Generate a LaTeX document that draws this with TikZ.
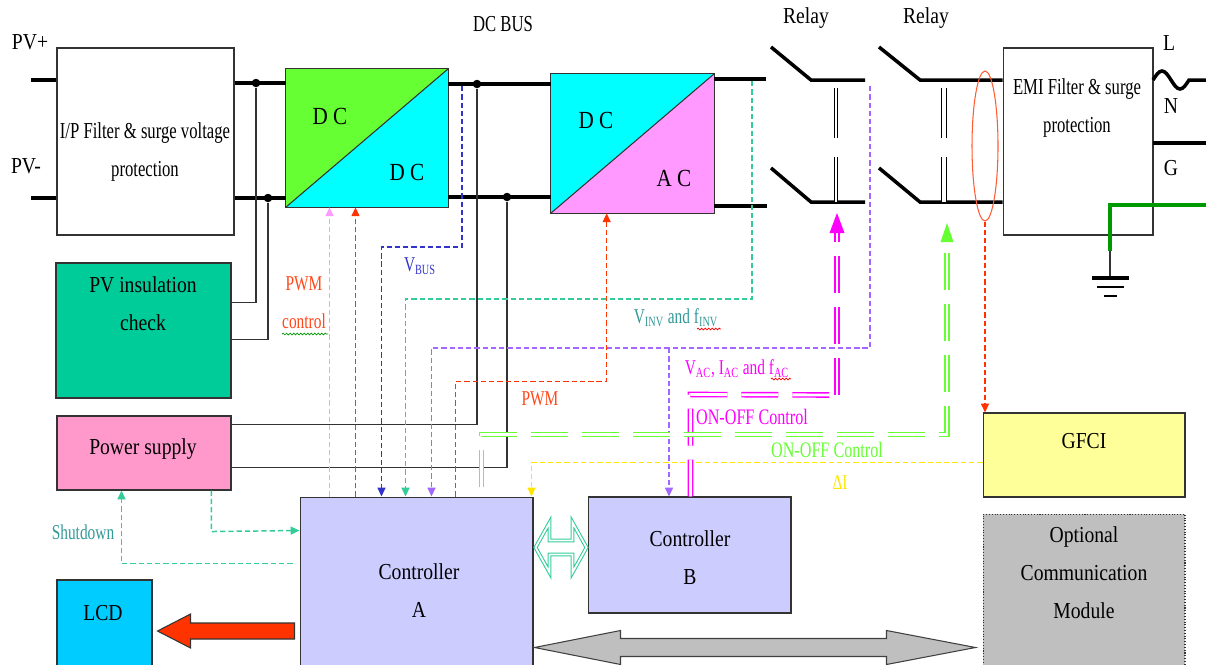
\documentclass[tikz,border=0pt]{standalone}
\usepackage{fontspec}
\setmainfont{Liberation Serif}[FakeStretch=0.73]
\newfontfamily\anchafont{Liberation Serif}[FakeStretch=0.86]
\usetikzlibrary{arrows.meta,calc,shapes.geometric,decorations.pathmorphing}

\definecolor{dcverde}{HTML}{66FF33}
\definecolor{dccian}{HTML}{00FFFF}
\definecolor{acrosa}{HTML}{FF99FF}
\definecolor{aislam}{HTML}{00CC99}
\definecolor{fuente}{HTML}{FF99CC}
\definecolor{pantalla}{HTML}{00CCFF}
\definecolor{ctrlfill}{HTML}{CCCCFF}
\definecolor{gfcifill}{HTML}{FFFF99}
\definecolor{opcgris}{HTML}{BFBFBF}
\definecolor{rojo}{HTML}{FF3300}
\definecolor{azul}{HTML}{3333CC}
\definecolor{turq}{HTML}{33CC99}
\definecolor{turqosc}{HTML}{339999}
\definecolor{morado}{HTML}{A366FF}
\definecolor{magen}{HTML}{FF00FF}
\definecolor{verdeon}{HTML}{66FF33}
\definecolor{amar}{HTML}{FFE600}
\definecolor{tierra}{HTML}{009900}

\begin{document}
\begin{tikzpicture}[x=0.02cm,y=-0.02cm,
    caja/.style={draw=black!80, line width=0.6pt, inner sep=0pt},
    txt/.style={align=center, inner sep=0pt, font=\fontsize{13}{21.6}\selectfont},
    txtw/.style={align=center, inner sep=0pt, font=\anchafont\fontsize{13}{21.6}\selectfont},
    sen/.style={align=center, inner sep=0pt, font=\fontsize{12}{21.6}\selectfont},
    bus/.style={line width=2.3pt},
    wire/.style={draw=black!80, line width=0.8pt},
    sig/.style={line width=0.85pt, dash pattern=on 3pt off 1.7pt, -{Triangle[length=5pt,width=4.5pt]}},
    onoff/.style={double=white, dash pattern=on 21pt off 8pt},
    enlace/.style={double=white, line width=0.8pt, double distance=1.2pt},
    dot/.style={circle, fill=black, inner sep=0pt, minimum size=0.17cm},
  ]

    % marco
    \fill[white] (0,0) rectangle (1206,664);
    \useasboundingbox (0,0) rectangle (1206,664);

    % filtro de entrada
    \node[caja, minimum width=3.54cm, minimum height=3.74cm] (filt) at (145.5,141.5) {};
    \node[txt] (filt-t) at (145,152) {I/P Filter \& surge voltage\\protection};
    \node[txtw] (pvp-t) at (30,42) {PV+};
    \node[txtw] (pvm-t) at (26,166) {PV-};
    \coordinate (pvp) at (31,80);
    \coordinate (pvm) at (31,198);
    \draw[bus] (pvp) -- (pvp -| filt.west);
    \draw[bus] (pvm) -- (pvm -| filt.west);

    % convertidor DC/DC
    \node[minimum width=3.24cm, minimum height=2.76cm, inner sep=0pt] (dcdc) at (367,138) {};
    \fill[dcverde] (dcdc.north west) -- (dcdc.north east) -- (dcdc.south west) -- cycle;
    \fill[dccian] (dcdc.north east) -- (dcdc.south east) -- (dcdc.south west) -- cycle;
    \draw[black!80, line width=0.6pt] (dcdc.south west) rectangle (dcdc.north east);
    \draw[black!80, line width=0.6pt] (dcdc.south west) -- (dcdc.north east);
    \node[txtw, font=\anchafont\fontsize{14}{16}\selectfont] (dcdc-a) at (330,116) {D C};
    \node[txtw, font=\anchafont\fontsize{14}{16}\selectfont] (dcdc-b) at (407,172) {D C};

    % convertidor DC/AC
    \node[minimum width=3.26cm, minimum height=2.78cm, inner sep=0pt] (dcac) at (632.5,143.5) {};
    \fill[dccian] (dcac.north west) -- (dcac.north east) -- (dcac.south west) -- cycle;
    \fill[acrosa] (dcac.north east) -- (dcac.south east) -- (dcac.south west) -- cycle;
    \draw[black!80, line width=0.6pt] (dcac.south west) rectangle (dcac.north east);
    \draw[black!80, line width=0.6pt] (dcac.south west) -- (dcac.north east);
    \node[txtw, font=\anchafont\fontsize{14}{16}\selectfont] (dcac-a) at (596,120) {D C};
    \node[txtw, font=\anchafont\fontsize{14}{16}\selectfont] (dcac-b) at (674,178) {A C};
    \node[txt] (bus-t) at (503,24) {DC BUS};

    % bus de continua
    \node[dot] (j1) at (256,83) {};
    \node[dot] (j2) at (268,198) {};
    \node[dot] (j3) at (477,84) {};
    \node[dot] (j4) at (507,197) {};
    \draw[bus] (j1 -| filt.east) -- (j1 -| dcdc.west);
    \draw[bus] (j2 -| filt.east) -- (j2 -| dcdc.west);
    \draw[bus] (j3 -| dcdc.east) -- (j3 -| dcac.west);
    \draw[bus] (j4 -| dcdc.east) -- (j4 -| dcac.west);

    % salida y reles
    \coordinate (o1) at (766,79);
    \coordinate (o2) at (767,206);
    \draw[bus] (o1 -| dcac.east) -- (o1);
    \draw[bus] (o2 -| dcac.east) -- (o2);
    \node[txtw] (rel1-t) at (806,18) {Relay};
    \node[txtw] (rel2-t) at (926,18) {Relay};
    \draw[line width=2pt] (771,47) -- (811,80) -- (865,80);
    \draw[line width=2pt] (771,168) -- (811,202) -- (865,202);
    \node[caja, minimum width=3cm, minimum height=3.74cm] (emi) at (1078,141.5) {};
    \coordinate (r2t) at (920,80);
    \coordinate (r2b) at (920,202);
    \draw[line width=2pt] (879,47) -- (r2t) -- (r2t -| emi.west);
    \draw[line width=2pt] (879,168) -- (r2b) -- (r2b -| emi.west);
    \draw[enlace, double distance=0.8pt] (836,88) -- (836,138);
    \draw[enlace, double distance=0.8pt] (836,157) -- (836,202);
    \draw[enlace, double distance=1.8pt] (944,88) -- (944,138);
    \draw[enlace, double distance=1.8pt] (944,157) -- (944,202);

    % filtro EMI y red
    \node[txt] (emi-t) at (1077,108) {EMI Filter \& surge\\protection};
    \node[txtw] (l-t) at (1169,43) {L};
    \node[txtw] (n-t) at (1171,106) {N};
    \node[txtw] (g-t) at (1171,168) {G};
    \coordinate (lin) at (1153,80);
    \coordinate (nin) at (1153,143);
    \draw[line width=2pt] (lin) sin ++(9,-9) cos ++(9,9) sin ++(9,9) cos ++(9,-9) -- (1206,80);
    \draw[bus] (nin) -- (1206,143);
    \coordinate (gnd) at (1110,251);
    \draw[tierra, line width=2.6pt] (1206,205) -- (1110,205) -- (gnd);
    \draw[wire] (gnd) -- ++(0,27);
    \draw[line width=2.5pt] (1092,278) -- (1129,278);
    \draw[line width=0.9pt] (1097,287) -- (1124,287);
    \draw[line width=0.9pt] (1104,296) -- (1117,296);

    % sensor de corriente
    \node[ellipse, draw=rojo!80, line width=0.6pt, minimum width=0.52cm, minimum height=3cm, inner sep=0pt] (ct) at (985,146) {};

    % bloques inferiores
    \node[caja, fill=aislam, minimum width=3.5cm, minimum height=2.7cm] (pvchk) at (143.5,330.5) {};
    \node[txtw] (pvchk-t) at (143,304) {PV insulation\\check};
    \node[caja, fill=fuente, minimum width=3.48cm, minimum height=1.48cm] (psup) at (144,453) {};
    \node[txtw] (psup-t) at (143,449) {Power supply};
    \node[caja, fill=pantalla, minimum width=1.9cm, minimum height=1.76cm] (lcd) at (104.5,624) {};
    \node[txtw] (lcd-t) at (103,613) {LCD};
    \node[caja, fill=ctrlfill, minimum width=4.66cm, minimum height=3.42cm] (ctrlA) at (416.5,582.5) {};
    \node[txtw] (ctrlA-t) at (419,591) {Controller\\A};
    \node[caja, fill=ctrlfill, minimum width=4.06cm, minimum height=2.32cm] (ctrlB) at (689.5,555) {};
    \node[txtw] (ctrlB-t) at (690,558) {Controller\\B};
    \node[caja, fill=gfcifill, minimum width=4.04cm, minimum height=1.68cm] (gfci) at (1084,455) {};
    \node[txtw] (gfci-t) at (1084,441) {GFCI};
    \node[caja, densely dotted, fill=opcgris, minimum width=4.04cm, minimum height=3.08cm] (optm) at (1084,591) {};
    \node[txtw] (optm-t) at (1084,573) {Optional\\Communication\\Module};

    % cables de alimentacion
    \draw[wire] (j1) |- ($(pvchk.north east)+(0,40)$);
    \draw[wire] (j2) |- ($(pvchk.north east)+(0,77)$);
    \draw[wire] (j3) |- ($(psup.north east)+(0,9)$);
    \draw[wire] (j4) |- ($(psup.north east)+(0,52)$);

    % entradas del controlador A
    \foreach \n/\dx in {pk/30, rd/56, bl/82, tl/106, pu/132, pw/156, gr/182, ye/232}
        \coordinate (A-\n) at ($(ctrlA.north west)+(\dx,0)$);

    % senales
    \draw[sig, acrosa] (A-pk) -- (A-pk |- dcdc.south);
    \draw[sig, rojo] (A-rd) -- (A-rd |- dcdc.south);
    \coordinate (vbt) at (462,86);
    \draw[sig, azul] (vbt) -- ++(0,161) -| (A-bl);
    \coordinate (vit) at (752,81);
    \draw[sig, turq] (vit) -- ++(0,218) -| (A-tl);
    \coordinate (vat) at (870,86);
    \draw[sig, morado] (vat) -- ++(0,262) -| (A-pu);
    \coordinate (vab) at (669,348);
    \draw[sig, morado] (vab) -- (vab |- ctrlB.north);
    \draw[sig, rojo] (A-pw) -- ++(0,-115) -| ($(dcac.south west)+(56,0)$);
    \draw[sig, amar] ($(gfci.north west)+(0,50)$) -| (A-ye);
    \draw[sig, rojo] (ct.south) -- (ct.south |- gfci.north);
    \draw[sig, turq] ($(ctrlA.north west)+(-7,67)$) -| ($(psup.south west)+(65,0)$);
    \draw[sig, turq] ($(psup.south west)+(155,0)$) -- ++(0,41) -- ($(ctrlA.north west)+(0,34)$);

    % control ON-OFF de los reles
    \coordinate (r1a) at (837,213);
    \draw[onoff, magen, line width=0.8pt, double distance=1.6pt] ($(ctrlB.north west)+(103,0)$) -- ++(0,-102) -- ($(r1a)+(0,182)$);
    \draw[onoff, magen, line width=1.3pt, double distance=1.2pt] ($(r1a)+(0,182)$) -- ($(r1a)+(0,20)$);
    \fill[magen] (r1a) -- ++(-7.5,20) -- ++(15,0) -- cycle;
    \coordinate (r2a) at (947,223);
    \draw[onoff, verdeon, line width=0.9pt, double distance=1.6pt] ($(A-gr)+(0,-10)$) -- ++(0,-52) -| ($(r2a)+(0,19)$);
    \fill[verdeon] (r2a) -- ++(-6.5,19) -- ++(13,0) -- cycle;

    % flechas gruesas
    \coordinate (dl) at ($(ctrlA.north east)+(2,51)$);
    \draw[turq, line width=0.6pt, double=white, double distance=1pt, fill=white] (dl) -- ++(14,-25) -- ++(0,18) -- ++(23,0) -- ++(0,-18) -- ++(14,25) -- ++(-14,25) -- ++(0,-18) -- ++(-23,0) -- ++(0,18) -- cycle;
    \coordinate (gl) at ($(ctrlA.north east)+(1,151)$);
    \draw[draw=black!75, fill=opcgris, line width=0.6pt] (gl) -- ++(86,-17) -- ++(0,8) -- ++(266,0) -- ++(0,-8) -- ++(89,17) -- ++(-89,17) -- ++(0,-8) -- ++(-266,0) -- ++(0,8) -- cycle;
    \coordinate (rl) at ($(lcd.east)+(5,7)$);
    \draw[draw=black!80, fill=rojo, line width=0.6pt] (rl) -- ++(33,-17) -- ++(0,9) -- ++(104,0) -- ++(0,16) -- ++(-104,0) -- ++(0,9) -- cycle;

    % leyendas
    \node[sen, text=rojo!90] (pwm1-t) at (304,303) {PWM\\control};
    \node[sen, text=azul] (vbus-t) at (420,266) {V\textsubscript{BUS}};
    \node[sen, text=turqosc] (vinv-t) at (676,318) {V\textsubscript{INV} and f\textsubscript{INV}};
    \node[sen, text=magen] (vac-t) at (737,369) {V\textsubscript{AC}, I\textsubscript{AC} and f\textsubscript{AC}};
    \node[sen, text=rojo!90] (pwm2-t) at (540,399) {PWM};
    \node[sen, text=magen, font=\fontsize{12.6}{15}\selectfont] (on1-t) at (752,417) {ON-OFF Control};
    \node[sen, text=verdeon, font=\fontsize{12.6}{15}\selectfont] (on2-t) at (827,450) {ON-OFF Control};
    \node[sen, text=amar] (di-t) at (840,483) {ΔI};
    \node[sen, text=turqosc] (shut-t) at (83,532) {Shutdown};
    \draw[green!60!black, line width=0.4pt, decorate, decoration={snake, amplitude=0.5pt, segment length=2pt}] (282,334) -- (328,334);
    \draw[red, line width=0.4pt, decorate, decoration={snake, amplitude=0.5pt, segment length=2pt}] (697,329) -- (721,329);
    \draw[red, line width=0.4pt, decorate, decoration={snake, amplitude=0.5pt, segment length=2pt}] (771,379) -- (791,379);

\end{tikzpicture}
\end{document}
